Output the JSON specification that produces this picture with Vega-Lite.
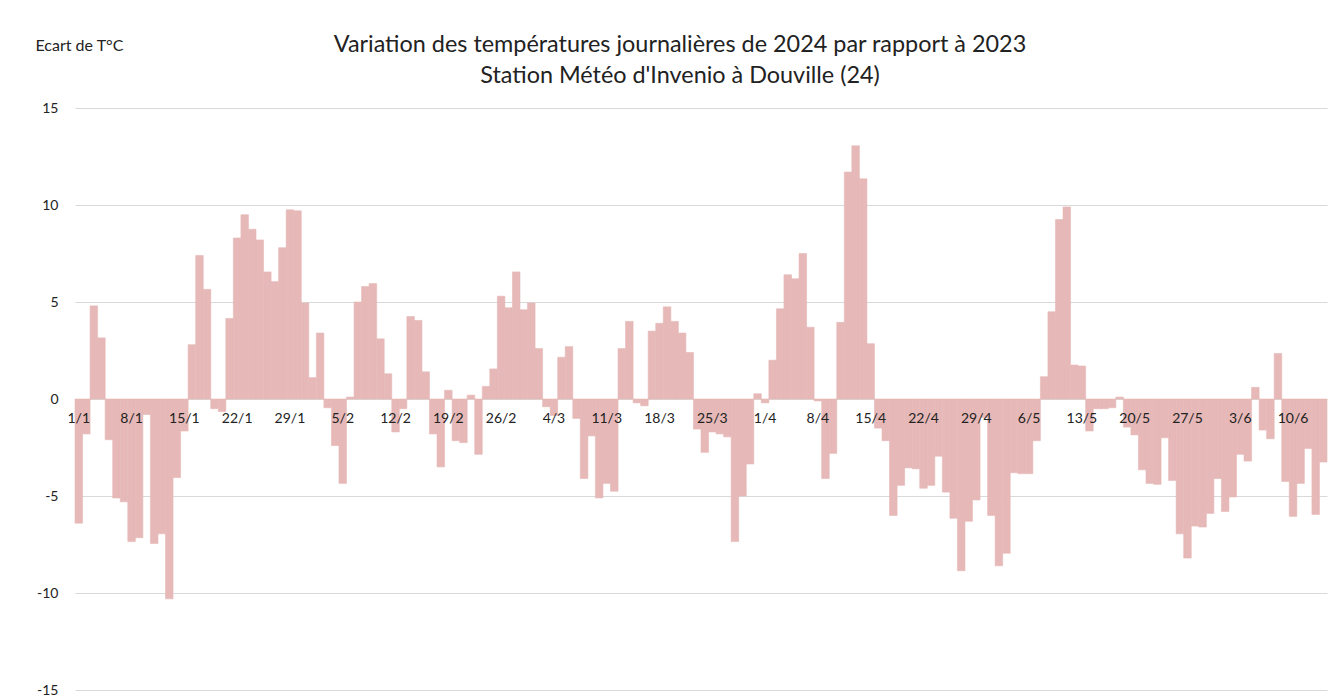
{
  "$schema": "https://vega.github.io/schema/vega-lite/v6.json",
  "width": 1252,
  "height": 582,
  "autosize": {"type": "none"},
  "padding": {"left": 75, "top": 108, "right": 7, "bottom": 10},
  "background": "white",
  "config": {"view": {"stroke": null}, "font": "Lato"},
  "title": {
    "text": ["Variation des températures journalières de 2024 par rapport à 2023", "Station Météo d'Invenio à Douville (24)"],
    "anchor": "middle",
    "frame": "group",
    "dx": -21,
    "dy": 71,
    "fontSize": 23.4,
    "fontWeight": "normal",
    "lineHeight": 31,
    "color": "#222222",
    "offset": 20
  },
  "data": {"values": [
    {"jour": "1/1", "ecart": -6.4}, {"jour": "2/1", "ecart": -1.8}, {"jour": "3/1", "ecart": 4.8}, {"jour": "4/1", "ecart": 3.15}, {"jour": "5/1", "ecart": -2.1}, {"jour": "6/1", "ecart": -5.1}, {"jour": "7/1", "ecart": -5.3}, {"jour": "8/1", "ecart": -7.35}, {"jour": "9/1", "ecart": -7.15}, {"jour": "10/1", "ecart": -0.8},
    {"jour": "11/1", "ecart": -7.45}, {"jour": "12/1", "ecart": -6.95}, {"jour": "13/1", "ecart": -10.3}, {"jour": "14/1", "ecart": -4.05}, {"jour": "15/1", "ecart": -1.65}, {"jour": "16/1", "ecart": 2.8}, {"jour": "17/1", "ecart": 7.4}, {"jour": "18/1", "ecart": 5.65}, {"jour": "19/1", "ecart": -0.5}, {"jour": "20/1", "ecart": -0.65},
    {"jour": "21/1", "ecart": 4.15}, {"jour": "22/1", "ecart": 8.3}, {"jour": "23/1", "ecart": 9.5}, {"jour": "24/1", "ecart": 8.75}, {"jour": "25/1", "ecart": 8.2}, {"jour": "26/1", "ecart": 6.55}, {"jour": "27/1", "ecart": 6.05}, {"jour": "28/1", "ecart": 7.8}, {"jour": "29/1", "ecart": 9.75}, {"jour": "30/1", "ecart": 9.7},
    {"jour": "31/1", "ecart": 4.95}, {"jour": "1/2", "ecart": 1.1}, {"jour": "2/2", "ecart": 3.4}, {"jour": "3/2", "ecart": -0.45}, {"jour": "4/2", "ecart": -2.4}, {"jour": "5/2", "ecart": -4.35}, {"jour": "6/2", "ecart": 0.1}, {"jour": "7/2", "ecart": 5.0}, {"jour": "8/2", "ecart": 5.8}, {"jour": "9/2", "ecart": 5.95},
    {"jour": "10/2", "ecart": 3.1}, {"jour": "11/2", "ecart": 1.3}, {"jour": "12/2", "ecart": -1.7}, {"jour": "13/2", "ecart": -0.5}, {"jour": "14/2", "ecart": 4.25}, {"jour": "15/2", "ecart": 4.05}, {"jour": "16/2", "ecart": 1.4}, {"jour": "17/2", "ecart": -1.8}, {"jour": "18/2", "ecart": -3.5}, {"jour": "19/2", "ecart": 0.45},
    {"jour": "20/2", "ecart": -2.15}, {"jour": "21/2", "ecart": -2.25}, {"jour": "22/2", "ecart": 0.2}, {"jour": "23/2", "ecart": -2.85}, {"jour": "24/2", "ecart": 0.65}, {"jour": "25/2", "ecart": 1.55}, {"jour": "26/2", "ecart": 5.3}, {"jour": "27/2", "ecart": 4.7}, {"jour": "28/2", "ecart": 6.55}, {"jour": "29/2", "ecart": 4.6},
    {"jour": "1/3", "ecart": 4.95}, {"jour": "2/3", "ecart": 2.6}, {"jour": "3/3", "ecart": -0.4}, {"jour": "4/3", "ecart": -0.85}, {"jour": "5/3", "ecart": 2.15}, {"jour": "6/3", "ecart": 2.7}, {"jour": "7/3", "ecart": -1.0}, {"jour": "8/3", "ecart": -4.1}, {"jour": "9/3", "ecart": -1.9}, {"jour": "10/3", "ecart": -5.1},
    {"jour": "11/3", "ecart": -4.35}, {"jour": "12/3", "ecart": -4.75}, {"jour": "13/3", "ecart": 2.6}, {"jour": "14/3", "ecart": 4.0}, {"jour": "15/3", "ecart": -0.2}, {"jour": "16/3", "ecart": -0.35}, {"jour": "17/3", "ecart": 3.5}, {"jour": "18/3", "ecart": 3.9}, {"jour": "19/3", "ecart": 4.75}, {"jour": "20/3", "ecart": 4.0},
    {"jour": "21/3", "ecart": 3.4}, {"jour": "22/3", "ecart": 2.4}, {"jour": "23/3", "ecart": -1.55}, {"jour": "24/3", "ecart": -2.75}, {"jour": "25/3", "ecart": -1.7}, {"jour": "26/3", "ecart": -1.8}, {"jour": "27/3", "ecart": -1.95}, {"jour": "28/3", "ecart": -7.35}, {"jour": "29/3", "ecart": -5.0}, {"jour": "30/3", "ecart": -3.35},
    {"jour": "31/3", "ecart": 0.27}, {"jour": "1/4", "ecart": -0.2}, {"jour": "2/4", "ecart": 2.0}, {"jour": "3/4", "ecart": 4.65}, {"jour": "4/4", "ecart": 6.4}, {"jour": "5/4", "ecart": 6.2}, {"jour": "6/4", "ecart": 7.5}, {"jour": "7/4", "ecart": 3.7}, {"jour": "8/4", "ecart": -0.1}, {"jour": "9/4", "ecart": -4.1},
    {"jour": "10/4", "ecart": -2.8}, {"jour": "11/4", "ecart": 3.95}, {"jour": "12/4", "ecart": 11.7}, {"jour": "13/4", "ecart": 13.05}, {"jour": "14/4", "ecart": 11.35}, {"jour": "15/4", "ecart": 2.85}, {"jour": "16/4", "ecart": -1.5}, {"jour": "17/4", "ecart": -2.15}, {"jour": "18/4", "ecart": -6.0}, {"jour": "19/4", "ecart": -4.45},
    {"jour": "20/4", "ecart": -3.55}, {"jour": "21/4", "ecart": -3.6}, {"jour": "22/4", "ecart": -4.6}, {"jour": "23/4", "ecart": -4.45}, {"jour": "24/4", "ecart": -2.95}, {"jour": "25/4", "ecart": -4.8}, {"jour": "26/4", "ecart": -6.15}, {"jour": "27/4", "ecart": -8.85}, {"jour": "28/4", "ecart": -6.3}, {"jour": "29/4", "ecart": -5.2},
    {"jour": "30/4", "ecart": -0.95}, {"jour": "1/5", "ecart": -6.0}, {"jour": "2/5", "ecart": -8.6}, {"jour": "3/5", "ecart": -7.95}, {"jour": "4/5", "ecart": -3.8}, {"jour": "5/5", "ecart": -3.85}, {"jour": "6/5", "ecart": -3.85}, {"jour": "7/5", "ecart": -2.15}, {"jour": "8/5", "ecart": 1.15}, {"jour": "9/5", "ecart": 4.5},
    {"jour": "10/5", "ecart": 9.25}, {"jour": "11/5", "ecart": 9.9}, {"jour": "12/5", "ecart": 1.75}, {"jour": "13/5", "ecart": 1.7}, {"jour": "14/5", "ecart": -1.65}, {"jour": "15/5", "ecart": -0.5}, {"jour": "16/5", "ecart": -0.5}, {"jour": "17/5", "ecart": -0.45}, {"jour": "18/5", "ecart": 0.1}, {"jour": "19/5", "ecart": -1.45},
    {"jour": "20/5", "ecart": -1.85}, {"jour": "21/5", "ecart": -3.65}, {"jour": "22/5", "ecart": -4.35}, {"jour": "23/5", "ecart": -4.4}, {"jour": "24/5", "ecart": -2.0}, {"jour": "25/5", "ecart": -4.2}, {"jour": "26/5", "ecart": -6.95}, {"jour": "27/5", "ecart": -8.2}, {"jour": "28/5", "ecart": -6.55}, {"jour": "29/5", "ecart": -6.6},
    {"jour": "30/5", "ecart": -5.9}, {"jour": "31/5", "ecart": -4.1}, {"jour": "1/6", "ecart": -5.8}, {"jour": "2/6", "ecart": -5.05}, {"jour": "3/6", "ecart": -2.85}, {"jour": "4/6", "ecart": -3.2}, {"jour": "5/6", "ecart": 0.6}, {"jour": "6/6", "ecart": -1.6}, {"jour": "7/6", "ecart": -2.05}, {"jour": "8/6", "ecart": 2.35},
    {"jour": "9/6", "ecart": -4.25}, {"jour": "10/6", "ecart": -6.05}, {"jour": "11/6", "ecart": -4.35}, {"jour": "12/6", "ecart": -2.55}, {"jour": "13/6", "ecart": -5.95}, {"jour": "14/6", "ecart": -3.25}
  ]},
  "mark": {"type": "bar", "color": "#E6B8B7", "stroke": "#E6B8B7", "strokeWidth": 0.6},
  "encoding": {
    "x": {
      "field": "jour",
      "type": "ordinal",
      "sort": null,
      "scale": {"paddingInner": 0, "paddingOuter": 0},
      "axis": {
        "values": ["1/1", "8/1", "15/1", "22/1", "29/1", "5/2", "12/2", "19/2", "26/2", "4/3", "11/3", "18/3", "25/3", "1/4", "8/4", "15/4", "22/4", "29/4", "6/5", "13/5", "20/5", "27/5", "3/6", "10/6"],
        "orient": "bottom",
        "offset": -291,
        "zindex": 1,
        "domain": false,
        "ticks": false,
        "grid": false,
        "labelPadding": 12,
        "labelAngle": 0,
        "labelFontSize": 14,
        "labelColor": "#222222",
        "title": null
      }
    },
    "y": {
      "field": "ecart",
      "type": "quantitative",
      "scale": {"domain": [-15, 15], "nice": false, "zero": true},
      "axis": {
        "values": [-15, -10, -5, 0, 5, 10, 15],
        "labelExpr": "datum.value + ''",
        "title": "Ecart de T°C",
        "titleAngle": 0,
        "titleX": -40,
        "titleY": -63,
        "titleAlign": "left",
        "titleBaseline": "middle",
        "titleFontWeight": "normal",
        "titleFontSize": 16,
        "titleColor": "#222222",
        "domain": false,
        "ticks": false,
        "labelPadding": 17,
        "labelFontSize": 14,
        "labelColor": "#222222",
        "gridColor": "#d9d9d9",
        "gridWidth": 1
      }
    }
  }
}
